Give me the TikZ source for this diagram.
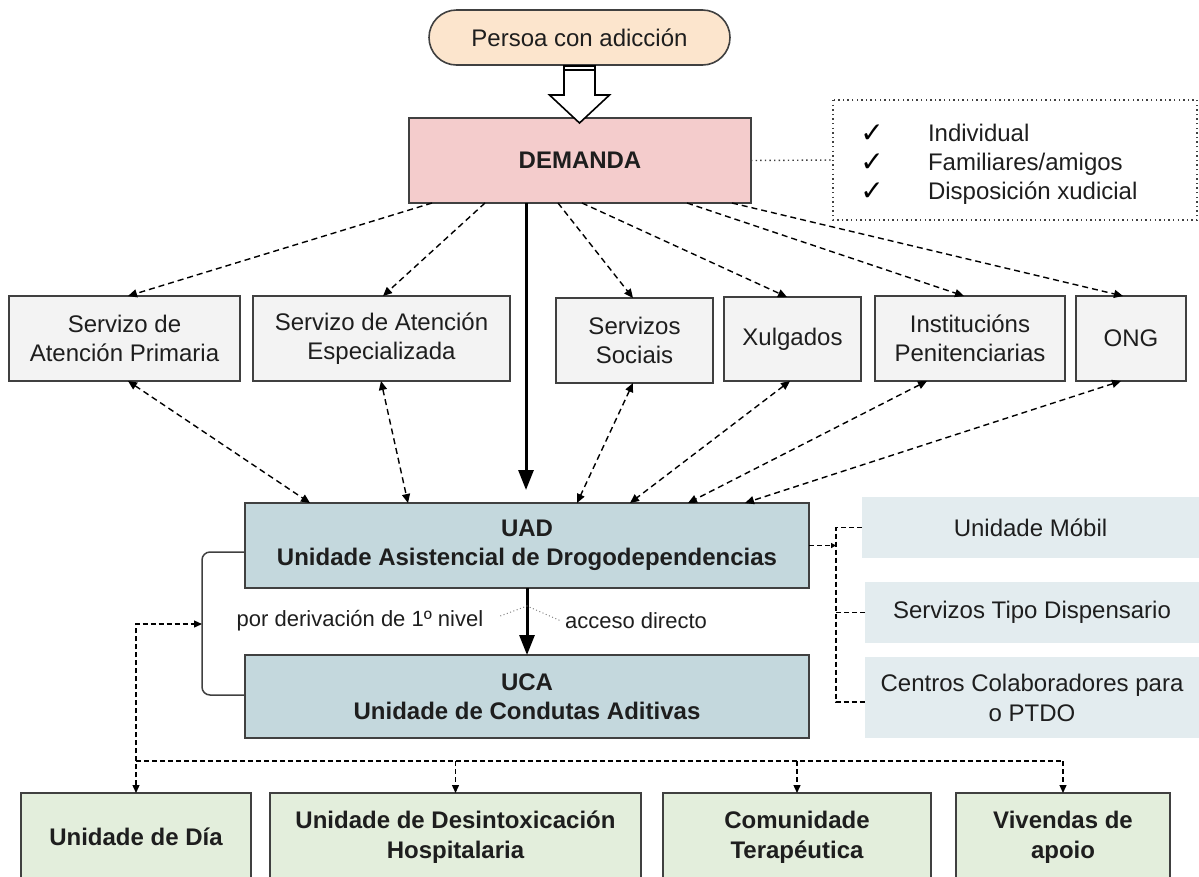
\documentclass[tikz,border=0pt]{standalone}
\usepackage{fontspec}
\setmainfont{Liberation Sans}
\newfontfamily\symfont{DejaVu Sans}
\usetikzlibrary{arrows.meta,calc}
\definecolor{peach}{HTML}{FCE5CD}
\definecolor{pinkb}{HTML}{F4CCCC}
\definecolor{grayb}{HTML}{F3F3F3}
\definecolor{blueb}{HTML}{C4D8DD}
\definecolor{lightb}{HTML}{E3ECEF}
\definecolor{greenb}{HTML}{E3EEDC}
\definecolor{bord}{HTML}{404040}
\definecolor{txt}{HTML}{1E1E1E}
\begin{document}
\begin{tikzpicture}[x=1pt,y=-1pt,
  every node/.style={inner sep=0pt, outer sep=0pt, text=txt, font=\fontsize{24}{28.5}\selectfont, align=center},
  boxnode/.style={draw=bord, line width=1.8pt, anchor=north west},
  greybox/.style={boxnode, fill=grayb},
  bluebox/.style={boxnode, fill=blueb, font=\fontsize{24}{29}\selectfont\bfseries},
  greenbox/.style={boxnode, fill=greenb, font=\fontsize{24}{30}\selectfont\bfseries},
  lightbox/.style={anchor=north west, fill=lightb, font=\fontsize{24}{30}\selectfont},
  dsh/.style={draw=black, line width=1.4pt, dash pattern=on 6pt off 4pt, -{Triangle[length=9pt,width=8pt]}},
  bidsh/.style={draw=black, line width=1.4pt, dash pattern=on 6pt off 4pt, {Triangle[length=9pt,width=8pt]}-{Triangle[length=9pt,width=8pt]}},
  smalldsh/.style={draw=black, line width=1.3pt, dash pattern=on 5pt off 3pt},
  solidarrow/.style={draw=black, line width=3pt, -{Triangle[length=20pt,width=15pt]}},
  dotl/.style={draw=bord, line width=1.4pt, dash pattern=on 1.4pt off 3.2pt},
  finedot/.style={draw=gray, line width=1pt, dash pattern=on 1pt off 2.5pt},
  brk/.style={draw=bord, line width=1.5pt, rounded corners=8pt},
  lbl/.style={font=\fontsize{22}{26}\selectfont},
  chk/.style={anchor=base, font=\symfont\fontsize{28}{30}\selectfont, text=black}
]
\useasboundingbox (0,0) rectangle (1199,876);
\clip (0,0) rectangle (1199,876);

% top
\node[draw=bord, line width=1.6pt, fill=peach, rounded corners=27.5pt, minimum width=301pt, minimum height=55pt, anchor=north west] (per) at (429,10) {Persoa con adicción};
\node[boxnode, fill=pinkb, minimum width=342pt, minimum height=85pt, font=\fontsize{24}{28}\selectfont\bfseries] (dem) at (409,118) {DEMANDA};

% block arrow
\draw[draw=black, line width=1.6pt, fill=white, line join=miter]
  ($(per.south)+(-15.5,1)$) -- ($(per.south)+(15.5,1)$) -- ($(per.south)+(15.5,30)$) -- ($(per.south)+(30,30)$)
  -- ($(per.south)+(0,58)$) -- ($(per.south)+(-30,30)$) -- ($(per.south)+(-15.5,30)$) -- cycle;
\draw[line width=1.4pt] ($(per.south)+(-15.5,5)$) -- ($(per.south)+(15.5,5)$);

% options box
\node[draw=none, minimum width=364pt, minimum height=120pt, anchor=north west] (opts) at (833,100) {};
\draw[dotl] (opts.north west) rectangle (opts.south east);
\node[chk] (k1) at (872,142) {✓};
\node[chk] (k2) at (872,171) {✓};
\node[chk] (k3) at (872,200) {✓};
\node[anchor=base west] (o1) at (928,141) {Individual};
\node[anchor=base west] (o2) at (928,170) {Familiares/amigos};
\node[anchor=base west] (o3) at (928,199) {Disposición xudicial};
\draw[dotl] (dem.east) -- (opts.west);

% row 2
\node[greybox, minimum width=231pt, minimum height=85pt] (prim) at (9,296) {Servizo de\\Atención Primaria};
\node[greybox, minimum width=257pt, minimum height=85pt] (espe) at (253,296) {Servizo de Atención\\Especializada};
\node[greybox, minimum width=157pt, minimum height=85pt] (soc) at (556,298) {Servizos\\Sociais};
\node[greybox, minimum width=137pt, minimum height=84pt] (xul) at (724,297) {Xulgados};
\node[greybox, minimum width=190pt, minimum height=85pt] (ins) at (875,296) {Institucións\\Penitenciarias};
\node[greybox, minimum width=110pt, minimum height=85pt] (ong) at (1076,296) {ONG};

% UAD / UCA
\node[bluebox, minimum width=564pt, minimum height=85pt] (uad) at (245,503) {UAD\\Unidade Asistencial de Drogodependencias};
\node[bluebox, minimum width=564pt, minimum height=83pt] (uca) at (245,655) {UCA\\Unidade de Condutas Aditivas};

% right boxes
\node[lightbox, minimum width=337pt, minimum height=61pt] (mob) at (862,497) {Unidade Móbil};
\node[lightbox, minimum width=334pt, minimum height=61pt] (dis) at (865,582) {Servizos Tipo Dispensario};
\node[lightbox, minimum width=334pt, minimum height=81pt] (cen) at (865,657) {Centros Colaboradores para\\o PTDO};

% bottom boxes
\node[greenbox, minimum width=230pt, minimum height=88pt] (dia) at (21,793) {Unidade de Día};
\node[greenbox, minimum width=371pt, minimum height=88pt] (des) at (270,793) {Unidade de Desintoxicación\\Hospitalaria};
\node[greenbox, minimum width=268pt, minimum height=88pt] (com) at (663,793) {Comunidade\\Terapéutica};
\node[greenbox, minimum width=214pt, minimum height=88pt] (viv) at (956,793) {Vivendas de\\apoio};

% DEMANDA -> row 2
\draw[dsh] ($(dem.south west)+(23,0)$) -- ($(prim.north west)+(119,0)$);
\draw[dsh] ($(dem.south west)+(76,0)$) -- ($(espe.north west)+(130,0)$);
\draw[dsh] ($(dem.south west)+(149,0)$) -- ($(soc.north west)+(77,0)$);
\draw[dsh] ($(dem.south west)+(173,0)$) -- ($(xul.north west)+(63,0)$);
\draw[dsh] ($(dem.south west)+(278,0)$) -- ($(ins.north west)+(89,0)$);
\draw[dsh] ($(dem.south west)+(323,0)$) -- ($(ong.north west)+(47,0)$);
\draw[solidarrow, shorten >=13pt] ($(dem.south west)+(117,0)$) -- ($(uad.north west)+(281,0)$);

% row 2 <-> UAD
\draw[bidsh] ($(prim.south west)+(119,0)$) -- ($(uad.north west)+(65,0)$);
\draw[bidsh] ($(espe.south west)+(128,0)$) -- ($(uad.north west)+(163,0)$);
\draw[bidsh] ($(soc.south west)+(77,0)$) -- ($(uad.north west)+(332,0)$);
\draw[bidsh] ($(xul.south west)+(66,0)$) -- ($(uad.north west)+(385,0)$);
\draw[bidsh] ($(ins.south west)+(52,0)$) -- ($(uad.north west)+(443,0)$);
\draw[bidsh] ($(ong.south west)+(45,0)$) -- ($(uad.north west)+(500,0)$);

% UAD -> UCA
\draw[solidarrow] (uad.south) -- (uca.north);
\node[lbl, anchor=center] (lab1) at (360,621) {por derivación de 1º nivel};
\node[lbl, anchor=center] (lab2) at (636,621) {acceso directo};
\coordinate (ap) at (527,606);
\draw[finedot] ($(lab1.east)+(17,-5)$) -- (ap) -- ($(lab2.west)+(-4,0)$);

% bracket
\coordinate (bt) at (202,552);
\coordinate (bm) at (202,624);
\coordinate (bb) at (202,695);
\draw[brk] ($(uad.west)+(0,6.5)$) -- (bt) -- (bb) -- ($(uca.west)+(0,-1.5)$);

% link to bottom boxes
\draw[smalldsh, {Triangle[length=8pt,width=7pt]}-{Triangle[length=8pt,width=7pt]}] (dia.north) |- (bm);
\draw[smalldsh] ($(dia.north)+(0,-32)$) -- ($(viv.north)+(0,-32)$);
\draw[smalldsh, -{Triangle[length=8pt,width=7pt]}] ($(des.north)+(0,-32)$) -- (des.north);
\draw[smalldsh, -{Triangle[length=8pt,width=7pt]}] ($(com.north)+(0,-32)$) -- (com.north);
\draw[smalldsh, -{Triangle[length=8pt,width=7pt]}] ($(viv.north)+(0,-32)$) -- (viv.north);

% right connector
\coordinate (jn) at (836,545.5);
\draw[smalldsh, -{Triangle[length=5pt,width=5pt]}] (uad.east) -- (jn);
\draw[smalldsh] (mob.west) -| (836,702) -- ($(cen.west)+(0,4.5)$);
\draw[smalldsh] (dis.west) -- (dis.west -| jn);
\end{tikzpicture}
\end{document}
